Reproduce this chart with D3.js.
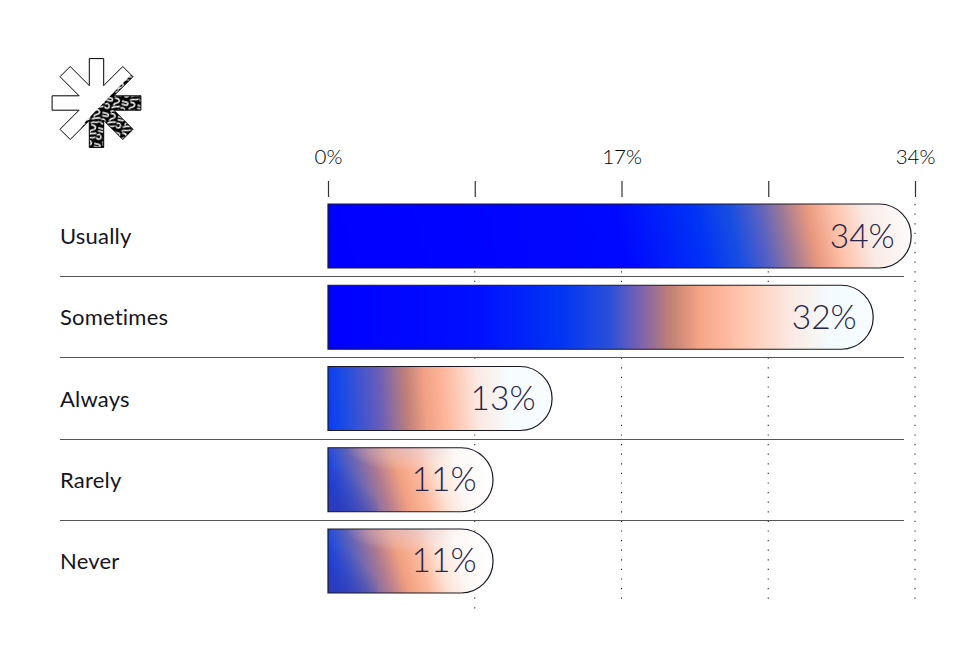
<!DOCTYPE html>
<html><head><meta charset="utf-8">
<script src="https://cdnjs.cloudflare.com/ajax/libs/d3/7.8.5/d3.min.js"></script>
<style>html,body{margin:0;background:#fff}svg{display:block}text{font-family:Lato,sans-serif}</style>
</head><body><svg id="c" width="967" height="651"></svg>
<script>
const categories = ["Usually","Sometimes","Always","Rarely","Never"];
const barValues = [33.78,31.58,12.98,9.56,9.56];
const valueLabels = ["34%","32%","13%","11%","11%"];
const tickValues = [0,8.5,17,25.5,34];
const tickLabels = ["0%","","17%","","34%"];

const stopsUsually = [[0,"#0000ff"],[.5,"#0008ff"],[.64,"#0034f6"],[.70,"#1a4fe0"],[.745,"#5560c4"],[.79,"#a07a94"],[.83,"#e8987e"],[.878,"#ffc4ac"],[.93,"#f9ebe6"],[1,"#fdfbfa"]];
const stopsSometimes = [[0,"#0000ff"],[.279,"#0010ff"],[.426,"#0035f5"],[.517,"#2a50d8"],[.572,"#7a62b0"],[.628,"#c08074"],[.683,"#f7a587"],[.756,"#ffc4ad"],[.848,"#fbe9e2"],[.921,"#f4fbfe"],[1,"#f6fcff"]];
const stopsAlways = [[0,"#0a3cf5"],[.067,"#1a4ce4"],[.232,"#6a5eb8"],[.353,"#c08078"],[.433,"#f0a085"],[.513,"#fdb498"],[.665,"#fbe8e0"],[.8125,"#f6fcff"],[1,"#f8fdff"]];
const stopsRarely = [[0,"#0a3ff0"],[.133,"#4a5cc4"],[.315,"#b07a90"],[.436,"#f0a080"],[.558,"#fdb89c"],[.679,"#fde4d8"],[.8,"#fdf8f6"],[1,"#ffffff"]];
const barStops = [stopsUsually,stopsSometimes,stopsAlways,stopsRarely,stopsRarely];
const barTilts = [.22,0,.06,.3,.3];

const svg = d3.select("#c"), defs = svg.append("defs");
const x = d3.scaleLinear().domain([0,34]).range([328,915]);
const y = d3.scaleBand().domain(categories).range([204,593]).paddingInner(.2123);
const ink = "#1a1a24";

// dotted grid
svg.append("g").selectAll("line").data(tickValues.slice(1)).join("line")
  .attr("x1",d=>x(d)).attr("x2",d=>x(d)).attr("y1",204).attr("y2",d=>d===8.5?612:604)
  .attr("stroke","#222").attr("stroke-width",1.1).attr("stroke-dasharray","1.2 8.4");

// axis
const axis = d3.axisTop(x).tickValues(tickValues).tickSize(16).tickPadding(17)
  .tickFormat((d,i)=>tickLabels[i]);
const ag = svg.append("g").attr("transform","translate(0,197)").call(axis);
ag.select(".domain").remove();
ag.selectAll("line").attr("stroke","#333").attr("stroke-width",1.2);
ag.selectAll("text").attr("font-size",20.5).attr("font-weight",300).attr("fill","#000")
  .style("font-family","Lato,sans-serif");

// dividers
svg.append("g").selectAll("line").data(categories.slice(0,-1)).join("line")
  .attr("x1",60).attr("x2",904)
  .attr("y1",d=>Math.round(y(d)+y.bandwidth()+8)+.5).attr("y2",d=>Math.round(y(d)+y.bandwidth()+8)+.5)
  .attr("stroke","#555").attr("stroke-width",1.2);

// category labels
svg.append("g").selectAll("text").data(categories).join("text")
  .attr("x",60).attr("y",d=>y(d)+y.bandwidth()/2+8)
  .attr("font-size",22).attr("font-weight",400).attr("letter-spacing",.2).attr("fill","#15151f").text(d=>d);

// bar gradients
categories.forEach((c,i)=>{
  const x0=x(0), L=x(barValues[i])-x0, s=barTilts[i], yc=y(c)+y.bandwidth()/2, a=L/(1+s*s);
  defs.append("linearGradient").attr("id","g"+i).attr("gradientUnits","userSpaceOnUse")
    .attr("x1",x0).attr("y1",yc).attr("x2",x0+a).attr("y2",yc-s*a)
    .selectAll("stop").data(barStops[i]).join("stop")
    .attr("offset",d=>d[0]).attr("stop-color",d=>d[1]);
});
const lg = defs.append("linearGradient").attr("id","shade").attr("x1",0).attr("y1",1).attr("x2",.7).attr("y2",.35);
lg.append("stop").attr("offset",0).attr("stop-color","#3a3aa8").attr("stop-opacity",.85);
lg.append("stop").attr("offset",1).attr("stop-color","#3a3aa8").attr("stop-opacity",0);
const haze = defs.append("radialGradient").attr("id","haze").attr("cx",.5).attr("cy",0).attr("r",.5);
haze.append("stop").attr("offset",0).attr("stop-color","#d8c4d8").attr("stop-opacity",.55);
haze.append("stop").attr("offset",.6).attr("stop-color","#e4d0d8").attr("stop-opacity",.28);
haze.append("stop").attr("offset",1).attr("stop-color","#f4e4e4").attr("stop-opacity",0);

const barPath = (c,i)=>{
  const p=d3.path(), x0=x(0), e=x(barValues[i]), t=y(c), h=y.bandwidth(), r=h/2;
  p.moveTo(x0,t); p.lineTo(e-r,t); p.arc(e-r,t+r,r,-Math.PI/2,Math.PI/2); p.lineTo(x0,t+h); p.closePath();
  return p.toString();
};
const bars = svg.append("g").selectAll("g").data(categories).join("g");
bars.append("path").attr("d",barPath).attr("fill",(d,i)=>`url(#g${i})`);
const short = bars.filter((d,i)=>barTilts[i]>=.3);
short.append("rect")
  .attr("x",x(0)).attr("y",d=>y(d)+y.bandwidth()*.3).attr("width",(x(barValues[3])-x(0))*.3).attr("height",y.bandwidth()*.7)
  .attr("fill","url(#shade)");
short.append("rect")
  .attr("x",x(0)+18).attr("y",d=>y(d)).attr("width",(x(barValues[3])-x(0))*.72).attr("height",y.bandwidth()*.72)
  .attr("fill","url(#haze)");
bars.append("path").attr("d",barPath).attr("fill","none").attr("stroke",ink).attr("stroke-width",1.2);
bars.append("text").attr("x",(d,i)=>x(barValues[i])-16.5).attr("y",d=>y(d)+y.bandwidth()/2+11.5)
  .attr("text-anchor","end").attr("font-size",33.5).attr("font-weight",300).attr("fill","#26264a")
  .text((d,i)=>valueLabels[i]);

// logo: eight-armed asterisk, lower-right half filled with a squiggle pattern
const cx=96.5, cy=103, hw=7.2, len=44.4, rIn=hw/Math.sin(Math.PI/8);
const pts=[];
d3.range(8).forEach(k=>{
  const t=k*Math.PI/4, ux=Math.sin(t), uy=-Math.cos(t), nx=Math.cos(t), ny=Math.sin(t);
  pts.push([cx+ux*len-nx*hw,cy+uy*len-ny*hw],[cx+ux*len+nx*hw,cy+uy*len+ny*hw]);
  const m=t+Math.PI/8; pts.push([cx+Math.sin(m)*rIn,cy-Math.cos(m)*rIn]);
});
const star="M"+pts.map(p=>p.join(",")).join("L")+"Z";
const pat=defs.append("pattern").attr("id","sq").attr("patternUnits","userSpaceOnUse").attr("width",16).attr("height",16).attr("patternTransform","rotate(15)");
pat.append("rect").attr("width",16).attr("height",16).attr("fill","#000");
["M0 2H5C7 2 7 5 5 5H1","M9 1C12 0 14 2 13 4S9 5 9 8","M1 9C3 7 5 9 5 11S2 14 1 12","M8 11C10 9 13 9 15 8","M8 15C10 12 12 15 15 12"]
 .forEach(d=>pat.append("path").attr("d",d).attr("fill","none").attr("stroke","#fff").attr("stroke-width",1.5).attr("stroke-linecap","round"));
defs.append("clipPath").attr("id","half").append("path").attr("d","M113 93L150 56V160H60L86 121Z");
svg.append("path").attr("d",star).attr("fill","url(#sq)").attr("clip-path","url(#half)");
svg.append("path").attr("d",star).attr("fill","none").attr("stroke","#000").attr("stroke-width",1);
</script></body></html>
